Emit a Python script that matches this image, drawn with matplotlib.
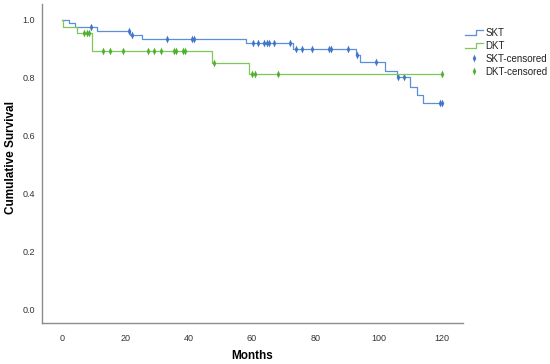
import numpy as np
import matplotlib
matplotlib.use("Agg")
import matplotlib.pyplot as plt
from matplotlib.lines import Line2D
from matplotlib.legend_handler import HandlerBase
from matplotlib.path import Path

plt.rcParams['font.family'] = ['Liberation Sans', 'DejaVu Sans']

# Kaplan-Meier step data (time in months, cumulative survival after step)
skt_times = [0, 2.2, 4.1, 10.9, 21.5, 25.2, 58.1, 72.8, 92.8, 94.2, 101.9, 105.8, 110.0, 112.1, 114.2]
skt_surv = [1.0, 0.990, 0.977, 0.962, 0.948, 0.934, 0.919, 0.900, 0.879, 0.855, 0.825, 0.802, 0.769, 0.740, 0.714]
skt_end = 120
skt_censored = [9.1, 21.2, 22.2, 33.2, 41.1, 41.8, 60.3, 62.0, 63.9, 64.7, 65.4, 67.1, 72.1,
                74.0, 75.8, 79.1, 84.3, 85.0, 90.2, 93.1, 99.1, 106.0, 108.1, 119.3, 120.0]

dkt_times = [0, 0.3, 4.8, 9.5, 47.3, 59.1]
dkt_surv = [1.0, 0.977, 0.955, 0.892, 0.852, 0.813]
dkt_end = 120
dkt_censored = [7.0, 7.7, 8.3, 13.0, 15.1, 19.2, 27.0, 29.0, 31.1, 35.2, 36.0, 38.1, 38.9,
                48.0, 60.0, 60.8, 68.2, 120.0]

x_ticks = [0, 20, 40, 60, 80, 100, 120]
y_ticks = [0.0, 0.2, 0.4, 0.6, 0.8, 1.0]

blue_line = '#5b8fd9'
green_line = '#7cc95a'
blue_mark = '#3f76cc'
green_mark = '#4fb02e'

diamond = Path([(0, 1), (0.45, 0), (0, -1), (-0.45, 0), (0, 1)],
               [Path.MOVETO, Path.LINETO, Path.LINETO, Path.LINETO, Path.CLOSEPOLY])


def surv_at(times, surv, t):
    idx = np.searchsorted(np.asarray(times), t, side='right') - 1
    return np.asarray(surv)[idx]


fig = plt.figure(figsize=(5.5, 3.64), dpi=100)
ax = fig.add_axes([41.7 / 550, 1 - 323 / 364, (463 - 41.7) / 550, (323 - 4) / 364])

for times, surv, end, cens, lc, mc, lab in [
    (skt_times, skt_surv, skt_end, skt_censored, blue_line, blue_mark, 'SKT'),
    (dkt_times, dkt_surv, dkt_end, dkt_censored, green_line, green_mark, 'DKT'),
]:
    xs = list(times) + [end]
    ys = list(surv) + [surv[-1]]
    ax.step(xs, ys, where='post', color=lc, lw=0.9, label=lab)
    cy = surv_at(times, surv, cens)
    ax.plot(cens, cy, linestyle='none', marker=diamond, markersize=5.6, markeredgewidth=0,
            color=mc, label=lab + '-censored')

ax.set_xlim(-6.5, 126.7)
ax.set_ylim(-0.048, 1.055)
ax.set_xticks(x_ticks)
ax.set_yticks(y_ticks)
ax.set_yticklabels([f'{v:.1f}' for v in y_ticks])
ax.tick_params(axis='both', length=0, labelsize=6.5, labelcolor='#333333')
ax.tick_params(axis='x', pad=8)
ax.tick_params(axis='y', pad=4.8)
for s in ['top', 'right']:
    ax.spines[s].set_visible(False)
for s in ['left', 'bottom']:
    ax.spines[s].set_color('#8c8c8c')
    ax.spines[s].set_linewidth(1.0)

ax.set_xlabel('Months', fontsize=8.5, fontweight='bold', va='center')
ax.set_ylabel('Cumulative Survival', fontsize=8.5, fontweight='bold', va='center')
ax.xaxis.set_label_coords(0.5, -0.105)
ax.yaxis.set_label_coords(-0.073, 0.52)


class StepHandler(HandlerBase):
    def create_artists(self, legend, orig_handle, xdescent, ydescent, width, height, fontsize, trans):
        x0 = -xdescent
        y0 = -ydescent
        xs = [x0, x0 + 0.6 * width, x0 + 0.6 * width, x0 + width]
        ys = [y0 + 0.15 * height, y0 + 0.15 * height, y0 + 0.85 * height, y0 + 0.85 * height]
        ln = Line2D(xs, ys, color=orig_handle.get_color(), lw=0.9)
        ln.set_transform(trans)
        return [ln]


handles, labels = ax.get_legend_handles_labels()
order = [0, 2, 1, 3]
handles = [handles[i] for i in order]
labels = [labels[i] for i in order]
handler_map = {handles[0]: StepHandler(), handles[1]: StepHandler()}
fig.legend(handles, labels, handler_map=handler_map, loc='upper left',
           bbox_to_anchor=(465 / 550, 1 - 28.0 / 364), frameon=False, fontsize=7,
           borderpad=0, borderaxespad=0, labelspacing=0.3, handlelength=1.9,
           handletextpad=0.2, numpoints=1, labelcolor='#222222')

fig.savefig('out.png', dpi=100)
